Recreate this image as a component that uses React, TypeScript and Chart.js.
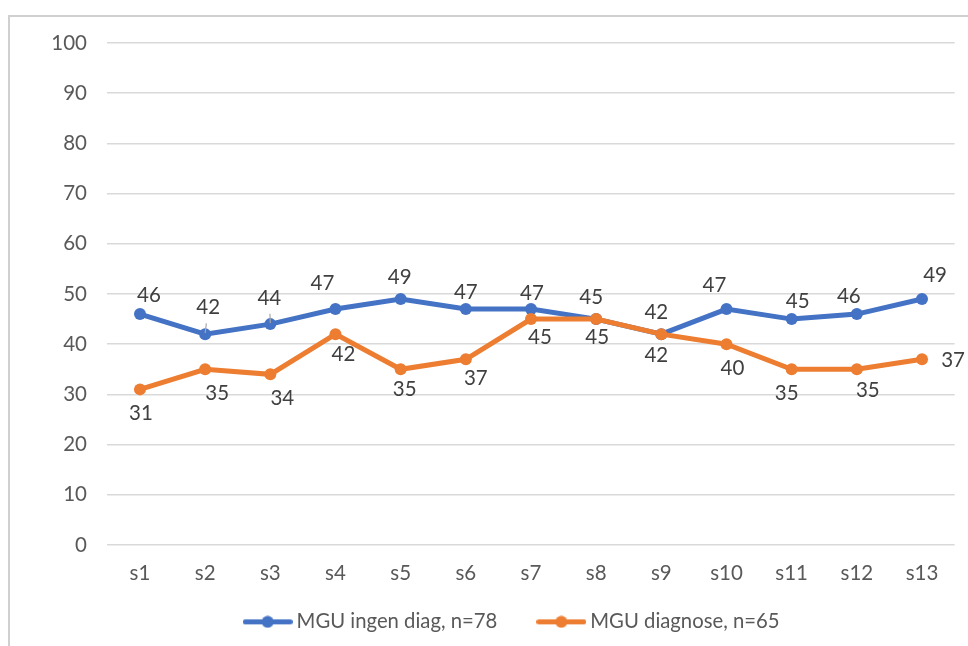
import React, { useEffect, useRef } from "react";
import { Chart, registerables } from "chart.js";

Chart.register(...registerables);

const categories = ["s1", "s2", "s3", "s4", "s5", "s6", "s7", "s8", "s9", "s10", "s11", "s12", "s13"];
const seriesNames = ["MGU ingen diag, n=78", "MGU diagnose, n=65"];
const ingenDiag = [46, 42, 44, 47, 49, 47, 47, 45, 42, 47, 45, 46, 49];
const diagnose = [31, 35, 34, 42, 35, 37, 45, 45, 42, 40, 35, 35, 37];
const yMin = 0;
const yMax = 100;
const yStep = 10;

// label placement (style only)
const ingenLabelDx = [9, 3, -1, -13, -1, 0, 1, -5, -5, -12, 6, -8, 13];
const ingenLabelDy = [-19, -27, -26, -26, -22, -17, -16, -22, -22, -24, -18, -18, -24];
const ingenLeader = [false, true, true, false, false, false, false, false, false, false, false, false, false];
const diagLabelDx = [1, 12, 12, 8, 4, 10, 9, 1, -5, 6, -5, 11, 31];
const diagLabelDy = [24, 24, 24, 20, 20, 19, 18, 18, 21, 24, 24, 21, 1];
const diagLeader = categories.map(() => false);

const FONT = "Lato, 'Open Sans', sans-serif";
const FONT_SIZE = 20.5;
const LEGEND_FONT_SIZE = 20.3;
const BLUE = "#4472C4";
const ORANGE = "#ED7D31";

function makeMarker(color: string): HTMLCanvasElement {
  const c = document.createElement("canvas");
  c.width = 50;
  c.height = 13;
  const g = c.getContext("2d")!;
  g.strokeStyle = color;
  g.lineWidth = 5;
  g.lineCap = "round";
  g.beginPath();
  g.moveTo(2.5, 6.5);
  g.lineTo(47.5, 6.5);
  g.stroke();
  g.fillStyle = color;
  g.beginPath();
  g.arc(25, 6.5, 6, 0, Math.PI * 2);
  g.fill();
  return c;
}

const labelPlugin = {
  id: "pointValueLabels",
  afterDatasetsDraw(chart: any) {
    const ctx = chart.ctx;
    const offsets = [
      { dx: ingenLabelDx, dy: ingenLabelDy, leader: ingenLeader },
      { dx: diagLabelDx, dy: diagLabelDy, leader: diagLeader },
    ];
    ctx.save();
    chart.data.datasets.forEach((ds: any, di: number) => {
      const meta = chart.getDatasetMeta(di);
      const o = offsets[di];
      meta.data.forEach((pt: any, i: number) => {
        if (o.leader[i]) {
          ctx.strokeStyle = "#a6a6a6";
          ctx.lineWidth = 1.2;
          ctx.beginPath();
          ctx.moveTo(pt.x, pt.y - 1);
          ctx.lineTo(pt.x + o.dx[i] * 0.4, pt.y + o.dy[i] * 0.4);
          ctx.stroke();
        }
        ctx.font = `${FONT_SIZE}px ${FONT}`;
        ctx.fillStyle = "#404040";
        ctx.textAlign = "center";
        ctx.textBaseline = "middle";
        ctx.fillText(String(ds.data[i]), pt.x + o.dx[i], pt.y + o.dy[i]);
      });
    });
    ctx.restore();
  },
};

export default function App() {
  const ref = useRef<HTMLCanvasElement | null>(null);

  useEffect(() => {
    if (!ref.current) return;
    const markers = [makeMarker(BLUE), makeMarker(ORANGE)];
    const chart = new Chart(ref.current, {
      type: "line",
      data: {
        labels: categories,
        datasets: [
          {
            label: seriesNames[0],
            data: ingenDiag,
            borderColor: BLUE,
            backgroundColor: BLUE,
            borderWidth: 5,
            pointRadius: 6,
            pointBorderWidth: 0,
            pointBackgroundColor: BLUE,
            tension: 0,
            order: 1,
          },
          {
            label: seriesNames[1],
            data: diagnose,
            borderColor: ORANGE,
            backgroundColor: ORANGE,
            borderWidth: 5,
            pointRadius: 6,
            pointBorderWidth: 0,
            pointBackgroundColor: ORANGE,
            tension: 0,
            order: 0,
          },
        ],
      },
      options: {
        responsive: false,
        animation: false,
        layout: { padding: { left: 50.5, right: 0, top: 26, bottom: 4 } },
        plugins: {
          tooltip: { enabled: false },
          legend: {
            position: "bottom",
            labels: {
              usePointStyle: true,
              pointStyleWidth: 37.5,
              padding: 45.25,
              color: "#595959",
              font: { family: FONT, size: LEGEND_FONT_SIZE },
              generateLabels: (c: any) =>
                c.data.datasets.map((ds: any, i: number) => ({
                  text: ds.label,
                  pointStyle: markers[i],
                  fillStyle: ds.borderColor,
                  strokeStyle: ds.borderColor,
                  lineWidth: 0,
                  hidden: false,
                  datasetIndex: i,
                  fontColor: "#595959",
                })),
            },
          },
        },
        scales: {
          x: {
            offset: true,
            grid: { display: false, drawTicks: false },
            border: { display: false },
            ticks: {
              color: "#595959",
              font: { family: FONT, size: FONT_SIZE },
              padding: 16,
            },
            afterFit: (s: any) => {
              s.height = 21.45;
              s._computeLabelArea = () => undefined;
            },
          },
          y: {
            min: yMin,
            max: yMax,
            grid: {
              color: "#d9d9d9",
              lineWidth: 1.5,
              drawTicks: true,
              tickLength: 16.4,
              tickColor: "rgba(0,0,0,0)",
            },
            border: { display: false },
            ticks: {
              stepSize: yStep,
              color: "#595959",
              font: { family: FONT, size: FONT_SIZE },
              padding: 4,
            },
            afterFit: (s: any) => {
              s.width = 46.9;
              s._computeLabelArea = () => undefined;
            },
          },
          yr: {
            type: "linear",
            position: "right",
            display: true,
            grid: { display: false, drawTicks: false },
            border: { display: false },
            ticks: { display: false },
            afterFit: (s: any) => {
              s.width = 13.4;
            },
          },
        },
      },
      plugins: [labelPlugin],
    } as any);
    return () => chart.destroy();
  }, []);

  return (
    <div
      style={{
        position: "absolute",
        left: 8,
        top: 15,
        width: 960,
        height: 631,
        boxSizing: "border-box",
        borderTop: "2px solid #d0d0d0",
        borderLeft: "2px solid #d0d0d0",
        background: "#ffffff",
        overflow: "hidden",
      }}
    >
      <canvas ref={ref} width={958} height={629} style={{ display: "block" }} />
    </div>
  );
}
